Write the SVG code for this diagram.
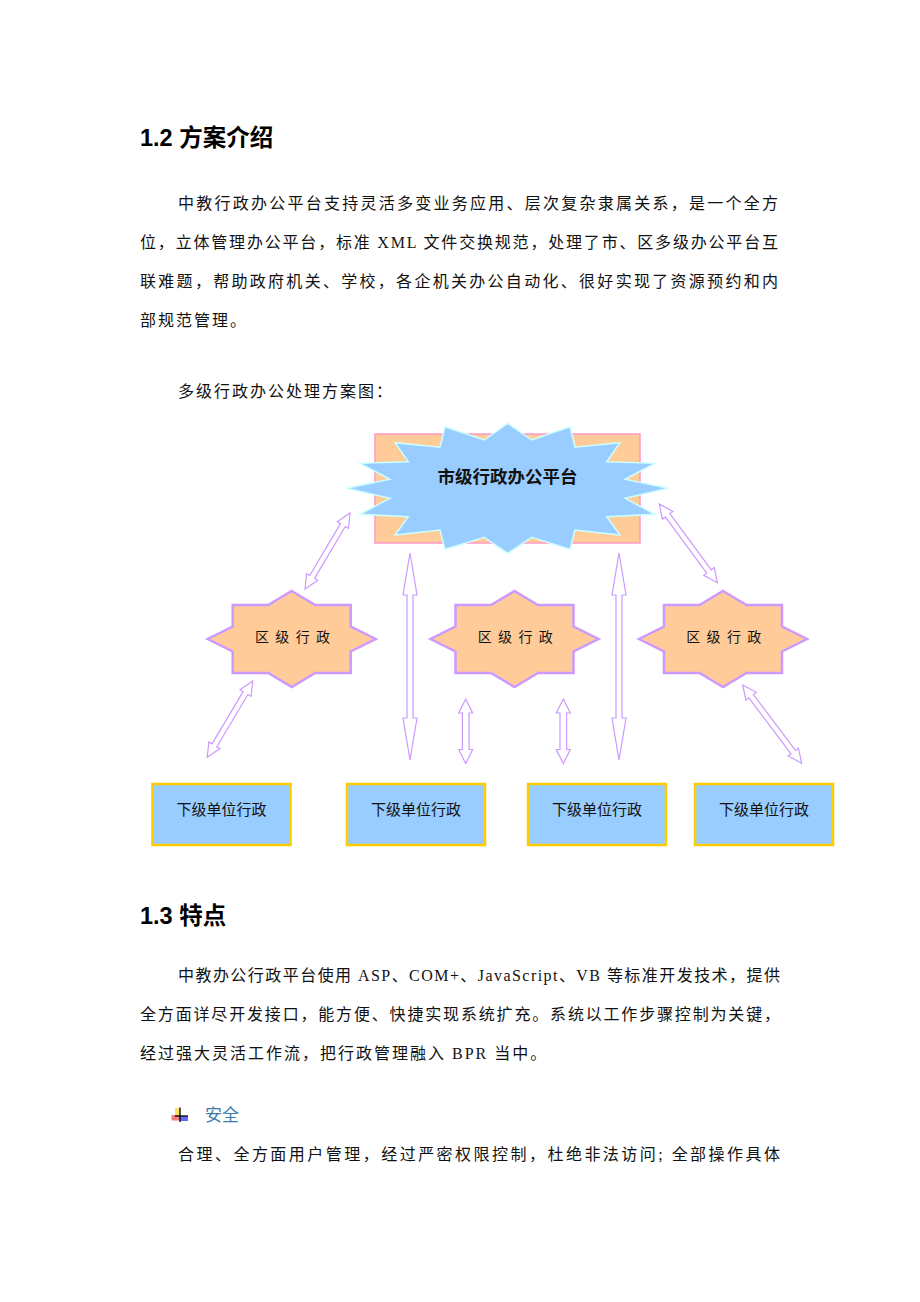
<svg xmlns="http://www.w3.org/2000/svg" xmlns:xlink="http://www.w3.org/1999/xlink" width="920" height="1302" viewBox="0 0 920 1302">
<style>
.h{font-family:"Liberation Sans","Noto Sans CJK SC",sans-serif;font-weight:bold;font-size:23.5px;fill:#000}
.b{font-family:"Liberation Serif","Noto Sans CJK SC",serif;font-size:16px;fill:#111}
.ls{letter-spacing:2px}
.arrow{fill:#fff;stroke:#CC99FF;stroke-width:1.2}
.oct{fill:#FFCC99;stroke:#CC99FF;stroke-width:2.5}
.unit{fill:#99CCFF;stroke:#FFCC00;stroke-width:2.5}
.lbl{font-family:"Noto Sans CJK SC",sans-serif;font-size:15px;fill:#111}
.olbl{font-family:"Noto Sans CJK SC",sans-serif;font-size:14px;fill:#111}
</style>
<defs>
<polygon id="octShape" points="0,-48 23.5,-34 59,-34 59,-12.5 84,0 59,12.5 59,34 23.5,34 0,48 -23.5,34 -59,34 -59,12.5 -84,0 -59,-12.5 -59,-34 -23.5,-34"/>
</defs>
<rect width="920" height="1302" fill="#fff"/>

<g id="text-top">
<text class="h" x="140" y="146">1.2 方案介绍</text>
<text class="b" x="178" y="209" textLength="600" lengthAdjust="spacing">中教行政办公平台支持灵活多变业务应用、层次复杂隶属关系，是一个全方</text>
<text class="b" x="140" y="248" textLength="638" lengthAdjust="spacing">位，立体管理办公平台，标准 XML 文件交换规范，处理了市、区多级办公平台互</text>
<text class="b" x="140" y="287" textLength="638" lengthAdjust="spacing">联难题，帮助政府机关、学校，各企机关办公自动化、很好实现了资源预约和内</text>
<text class="b ls" x="140" y="326">部规范管理。</text>
<text class="b ls" x="178" y="397">多级行政办公处理方案图：</text>
</g>

<g id="city">
<rect x="375" y="434" width="265" height="109" fill="#FFCC99" stroke="#FF99CC" stroke-width="1.5"/>
<polygon points="507.7,423.3 531.7,440 570,426.7 575,447.3 620,442.7 606.7,461.7 655,463.3 625,479.3 668.3,488.3 625,498.3 655,514.3 606.7,516.7 620,535 575,530 570,549.3 531.7,537.3 507.7,553.3 484.3,537.3 445,549.3 440,530 395,535 408.3,516.7 360,514.3 390,498.3 346.7,488.3 390,479.3 360,463.3 408.3,461.7 395,442.7 440,447.3 445,426.7 484.3,440" fill="#99CCFF" stroke="#CCFFFF" stroke-width="1.5"/>
<text x="507.5" y="483" text-anchor="middle" font-family="Noto Sans CJK SC, sans-serif" font-size="17.5" font-weight="bold" fill="#111">市级行政办公平台</text>
</g>

<g id="district1">
<use xlink:href="#octShape" href="#octShape" x="291.7" y="639" class="oct"/>
<text class="olbl" x="255 275.3 295.7 316" y="642">区级行政</text>
</g>
<g id="district2">
<use xlink:href="#octShape" href="#octShape" x="514.5" y="639" class="oct"/>
<text class="olbl" x="477.8 498.1 518.5 538.8" y="642">区级行政</text>
</g>
<g id="district3">
<use xlink:href="#octShape" href="#octShape" x="723" y="639" class="oct"/>
<text class="olbl" x="686.3 706.6 727 747.3" y="642">区级行政</text>
</g>

<g id="unit1">
<rect class="unit" x="152.5" y="784" width="138" height="61"/>
<text class="lbl" x="221.5" y="815" text-anchor="middle">下级单位行政</text>
</g>
<g id="unit2">
<rect class="unit" x="347" y="784" width="138" height="61"/>
<text class="lbl" x="416" y="815" text-anchor="middle">下级单位行政</text>
</g>
<g id="unit3">
<rect class="unit" x="528" y="784" width="138" height="61"/>
<text class="lbl" x="597" y="815" text-anchor="middle">下级单位行政</text>
</g>
<g id="unit4">
<rect class="unit" x="695" y="784" width="138" height="61"/>
<text class="lbl" x="764" y="815" text-anchor="middle">下级单位行政</text>
</g>

<g id="connectors">
<polygon class="arrow" transform="translate(350,513) rotate(120.6)" points="0,0 14,-6.5 14,-2.8 74.3,-2.8 74.3,-6.5 88.3,0 74.3,6.5 74.3,2.8 14,2.8 14,6.5"/>
<polygon class="arrow" transform="translate(252.7,681) rotate(120.8)" points="0,0 14,-6.5 14,-2.8 74.8,-2.8 74.8,-6.5 88.8,0 74.8,6.5 74.8,2.8 14,2.8 14,6.5"/>
<polygon class="arrow" transform="translate(659.3,504) rotate(53.6)" points="0,0 14,-6.5 14,-2.8 83.8,-2.8 83.8,-6.5 97.8,0 83.8,6.5 83.8,2.8 14,2.8 14,6.5"/>
<polygon class="arrow" transform="translate(742.7,685) rotate(53)" points="0,0 14,-6.5 14,-2.8 84,-2.8 84,-6.5 98,0 84,6.5 84,2.8 14,2.8 14,6.5"/>
<polygon class="arrow" points="410,553 417,595 413,595 413,718 417,718 410,760 403,718 407,718 407,595 403,595"/>
<polygon class="arrow" points="619,553 626,595 622,595 622,718 626,718 619,760 612,718 616,718 616,595 612,595"/>
<polygon class="arrow" points="465.7,699 472.7,713 469,713 469,749.5 472.7,749.5 465.7,763.5 458.7,749.5 462.4,749.5 462.4,713 458.7,713"/>
<polygon class="arrow" points="563.3,699 570.3,713 566.6,713 566.6,749.5 570.3,749.5 563.3,763.5 556.3,749.5 560,749.5 560,713 556.3,713"/>
</g>

<g id="text-bottom">
<text class="h" x="140" y="924">1.3 特点</text>
<text class="b" x="178" y="981" textLength="602" lengthAdjust="spacing">中教办公行政平台使用 ASP、COM+、JavaScript、VB 等标准开发技术，提供</text>
<text class="b" x="140" y="1020" textLength="640" lengthAdjust="spacing">全方面详尽开发接口，能方便、快捷实现系统扩充。系统以工作步骤控制为关键，</text>
<text class="b ls" x="140" y="1059">经过强大灵活工作流，把行政管理融入 BPR 当中。</text>
<g id="bullet">
<rect x="175" y="1108" width="5" height="7" fill="#FFE066"/>
<rect x="171.5" y="1115" width="8.5" height="5.5" fill="#F08080"/>
<rect x="180" y="1116" width="8" height="5" fill="#6666FF"/>
<line x1="180" y1="1107.5" x2="180" y2="1122" stroke="#000" stroke-width="1.3"/>
<line x1="175" y1="1116" x2="188" y2="1116" stroke="#000" stroke-width="1.3"/>
</g>
<text x="205" y="1121" font-family="Noto Sans CJK SC, sans-serif" font-size="17" fill="#3A7BAE">安全</text>
<text class="b" x="178" y="1160" textLength="602" lengthAdjust="spacing">合理、全方面用户管理，经过严密权限控制，杜绝非法访问; 全部操作具体</text>
</g>
</svg>
